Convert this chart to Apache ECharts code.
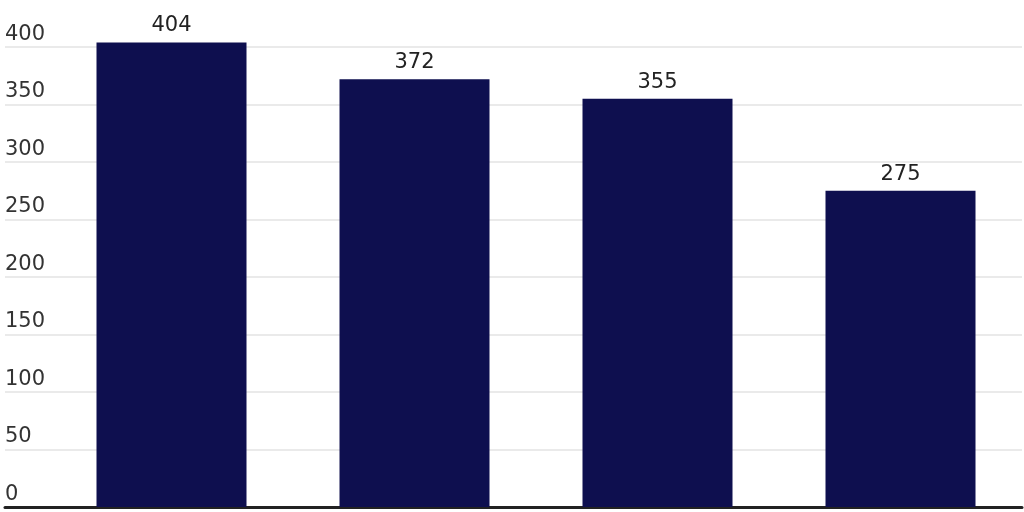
<!DOCTYPE html>
<html>
<head>
<meta charset="utf-8">
<script src="https://cdn.jsdelivr.net/npm/echarts@6/dist/echarts.min.js"></script>
<style>
  html, body { margin: 0; padding: 0; background: #fff; }
  #chart { width: 1024px; height: 512px; }
</style>
</head>
<body>
<div id="chart"></div>
<script>
// 数据
const categories = ['A', 'B', 'C', 'D'];
const values = [404, 372, 355, 275];
const yTicks = [0, 50, 100, 150, 200, 250, 300, 350, 400];

const FONT = 'DejaVu Sans';
const TOP = 47, BOTTOM = 5;

let myChart = echarts.init(document.getElementById('chart'));
myChart.setOption({
    animation: false,
    grid: [
        // 网格线、刻度文字、底线
        { left: 5, right: 2, top: TOP, bottom: BOTTOM },
        // 柱子
        { left: 50, right: 2, top: TOP, bottom: BOTTOM }
    ],
    xAxis: [
        {
            gridIndex: 0, type: 'category', data: [''],
            axisLine: { show: true, lineStyle: { color: '#222', width: 3 } },
            axisTick: { show: false }, axisLabel: { show: false }
        },
        {
            gridIndex: 1, type: 'category', data: categories,
            axisLine: { show: false }, axisTick: { show: false }, axisLabel: { show: false }
        }
    ],
    yAxis: [
        {
            gridIndex: 0, type: 'value', min: yTicks[0], max: yTicks[yTicks.length - 1], interval: 50,
            axisLine: { show: false }, axisTick: { show: false },
            splitLine: { show: true, lineStyle: { color: '#e3e3e3', width: 1.5 } },
            axisLabel: {
                inside: true, margin: 0, align: 'left', verticalAlign: 'bottom',
                padding: [0, 0, 2, 0],
                fontFamily: FONT, fontSize: 21, color: '#333'
            }
        },
        {
            gridIndex: 1, type: 'value', min: yTicks[0], max: yTicks[yTicks.length - 1], interval: 50,
            axisLine: { show: false }, axisTick: { show: false },
            splitLine: { show: false }, axisLabel: { show: false }
        }
    ],
    series: [{
        type: 'bar',
        xAxisIndex: 1,
        yAxisIndex: 1,
        data: values,
        barWidth: 150,
        clip: false,
        z: 3,
        itemStyle: { color: '#0e0f4f' },
        label: {
            show: true, position: 'top', distance: 6,
            fontFamily: FONT, fontSize: 21, color: '#222'
        }
    }]
});
</script>
</body>
</html>
